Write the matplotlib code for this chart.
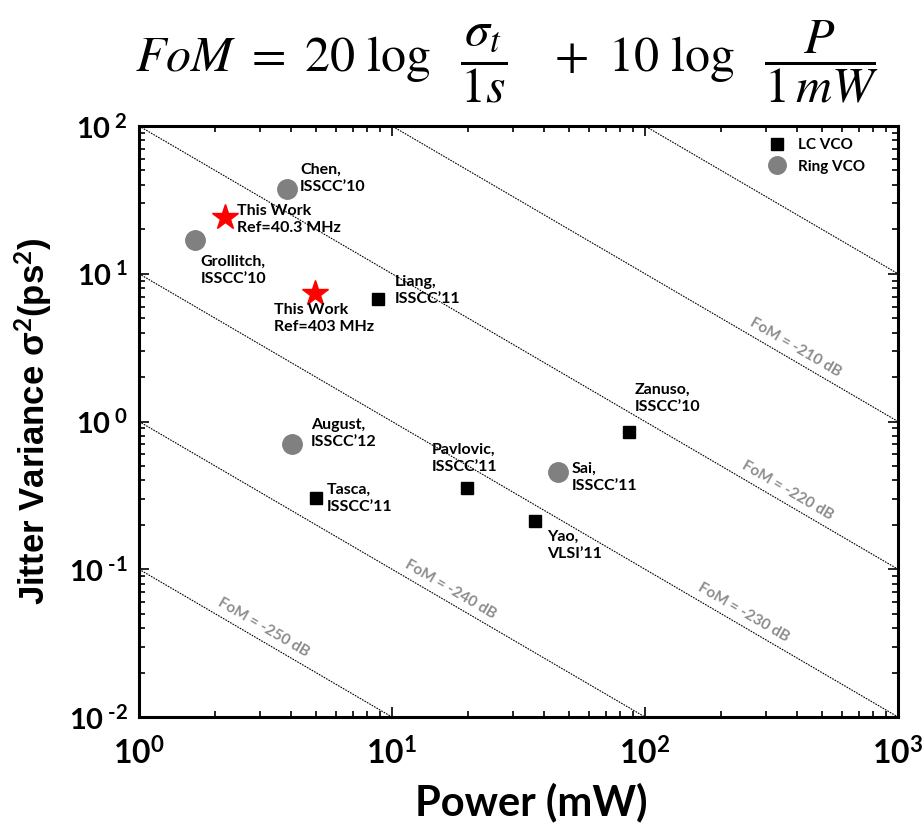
import numpy as np
import matplotlib
matplotlib.use("Agg")
import matplotlib.pyplot as plt
from matplotlib.ticker import LogLocator, NullFormatter, FixedLocator

plt.rcParams['font.family'] = ['Lato', 'DejaVu Sans']
plt.rcParams['mathtext.fontset'] = 'custom'
plt.rcParams['mathtext.rm'] = 'Lato:bold'
plt.rcParams['mathtext.bf'] = 'Lato:bold'
plt.rcParams['mathtext.it'] = 'Lato:bold:italic'

# ---- data ----
lc_names = ["Liang,\nISSCC\u201911", "Tasca,\nISSCC\u201911", "Pavlovic,\nISSCC\u201911",
            "Zanuso,\nISSCC\u201910", "Yao,\nVLSI\u201911"]
lc_power = [8.8, 5.0, 19.8, 86.4, 36.7]
lc_jitter = [6.75, 0.303, 0.355, 0.849, 0.212]

ring_names = ["Chen,\nISSCC\u201910", "Grollitch,\nISSCC\u201910", "August,\nISSCC\u201912",
              "Sai,\nISSCC\u201911"]
ring_power = [3.85, 1.66, 4.02, 45.3]
ring_jitter = [37.5, 16.9, 0.705, 0.455]

work_names = ["This Work\nRef=40.3 MHz", "This Work\nRef=403 MHz"]
work_power = [2.19, 4.96]
work_jitter = [24.2, 7.4]

fom_levels = [-200, -210, -220, -230, -240, -250]
fom_labels = ["", "FoM = -210 dB", "FoM = -220 dB", "FoM = -230 dB", "FoM = -240 dB", "FoM = -250 dB"]
fom_label_power = [None, 392, 367, 244, 17, 3.1]

x_ticks = [1, 10, 100, 1000]
x_ticklabels = [r"$10^{0}$", r"$10^{1}$", r"$10^{2}$", r"$10^{3}$"]
y_ticks = [0.01, 0.1, 1, 10, 100]
y_ticklabels = [r"$10^{\;\text{-}2}$", r"$10^{\;\text{-}1}$", r"$10^{\;0}$", r"$10^{\;1}$", r"$10^{\;2}$"]

# label offsets in pixels (dx right, dy down) from marker to text top-left
lc_off = [(17, -24), (11, -15), (-35, -45), (6, -49), (12, 9)]
ring_off = [(13, -26), (6, 15), (19, -26), (14, -10)]
work_off = [(12, -13), (-41, 10)]

fig = plt.figure(figsize=(9.22, 8.24), dpi=100)
ax = fig.add_axes([139/922, 1-717/824, (898-139)/922, (717-126)/824])
ax.set_xscale('log')
ax.set_yscale('log')
ax.set_xlim(1, 1000)
ax.set_ylim(0.01, 100)

# FoM lines
P = np.logspace(0, 3, 200)
for lvl, lab, lp in zip(fom_levels, fom_labels, fom_label_power):
    k = 10 ** ((lvl + 240) / 10.0)
    ax.plot(P, k / P, color='black', lw=0.8, ls=(0, (1.5, 1.0)), zorder=1)
    if lab:
        ax.annotate(lab, xy=(lp, k / lp), xytext=(0, 14), textcoords='offset pixels',
                    rotation=-30.3, rotation_mode='anchor', ha='center', va='center',
                    color='#8c8c8c', fontsize=11, fontweight='bold')

ax.plot(lc_power, lc_jitter, 's', color='black', ms=9, ls='none', label='LC VCO', zorder=3)
ax.plot(ring_power, ring_jitter, 'o', color='#808080', ms=14, ls='none', label='Ring VCO', zorder=3)
ax.plot(work_power, work_jitter, '*', color='#ff0000', ms=19, ls='none', zorder=3)

def lab(names, xs, ys, offs):
    for n, x, y, (dx, dy) in zip(names, xs, ys, offs):
        ax.annotate(n, xy=(x, y), xytext=(dx, -dy), textcoords='offset pixels',
                    ha='left', va='top', fontsize=11.5, fontweight='bold',
                    linespacing=1.25, zorder=4)

lab(lc_names, lc_power, lc_jitter, lc_off)
lab(ring_names, ring_power, ring_jitter, ring_off)
lab(work_names, work_power, work_jitter, work_off)

leg = ax.legend(loc='upper right', bbox_to_anchor=(0.965, 0.99), borderaxespad=0,
                frameon=False, prop={'weight': 'bold', 'size': 11},
                handletextpad=0.4, labelspacing=0.5, markerscale=0.9)

ax.xaxis.set_major_locator(FixedLocator(x_ticks))
ax.set_xticklabels(x_ticklabels)
ax.yaxis.set_major_locator(FixedLocator(y_ticks))
ax.set_yticklabels(y_ticklabels)
ax.xaxis.set_minor_locator(LogLocator(base=10, subs=np.arange(2, 10)))
ax.yaxis.set_minor_locator(LogLocator(base=10, subs=np.arange(2, 10)))
ax.xaxis.set_minor_formatter(NullFormatter())
ax.yaxis.set_minor_formatter(NullFormatter())
ax.tick_params(which='both', direction='in', top=True, right=True, width=1.2)
ax.tick_params(which='major', length=7)
ax.tick_params(axis='x', which='major', labelsize=23, pad=15)
ax.tick_params(axis='y', which='major', labelsize=21, pad=8)
ax.tick_params(which='minor', length=4)
for s in ax.spines.values():
    s.set_linewidth(2.2)

ax.set_xlabel('Power (mW)', fontsize=30, fontweight='bold')
ax.xaxis.set_label_coords((531 - 139) / 759, -0.11)
ax.set_ylabel('Jitter Variance \u03c3$^{2}$(ps$^{2}$)', fontsize=25, fontweight='bold',
              family=['Liberation Sans', 'DejaVu Sans'], labelpad=10)

fig.text(0.55, 0.925,
         r'$FoM\ =\ 20\ \log\ \ \dfrac{\sigma_t}{1s}\ \ \ +\ 10\ \log\ \ \dfrac{P}{1\,mW}$',
         ha='center', va='center', fontsize=36, math_fontfamily='stix')

fig.savefig('out.png', dpi=100)
